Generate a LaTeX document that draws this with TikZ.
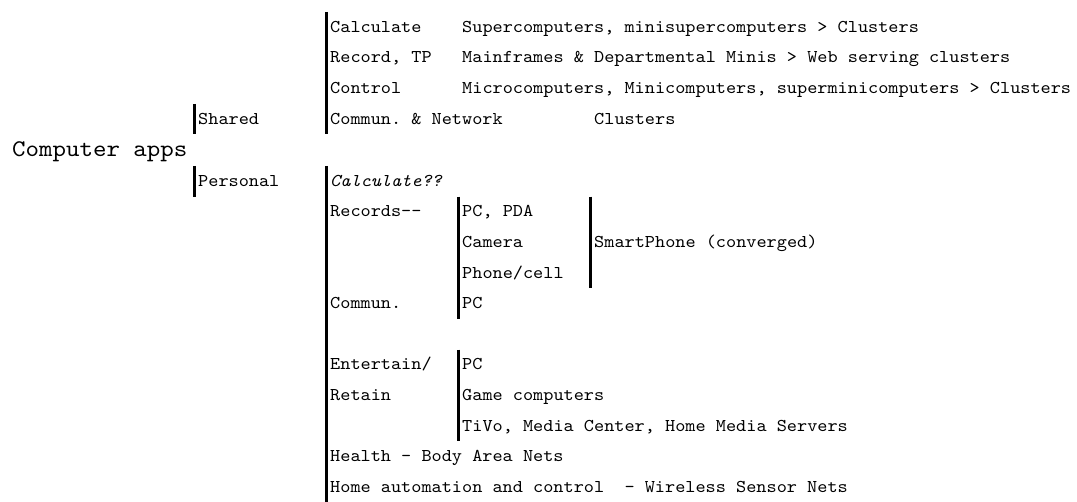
\documentclass[tikz,border=0pt]{standalone}
\usepackage{fontspec}
\setmonofont{lmmono10-regular}[Extension=.otf, ItalicFont=lmmono10-italic, FakeStretch=1.074]
\begin{document}
\begin{tikzpicture}[x=1pt,y=-1pt,
  txt/.style={anchor=base west, inner sep=0pt, font=\ttfamily\fontsize{18}{20}\selectfont},
  ittxt/.style={txt, font=\ttfamily\itshape\fontsize{18}{20}\selectfont},
  bigtxt/.style={anchor=base west, inner sep=0pt, font=\ttfamily\fontsize{23.9}{26}\selectfont},
  bar/.style={line width=3pt, black}]
\useasboundingbox (0,0) rectangle (1077,502);
% root
\node[bigtxt] (apps) at (12,157) {Computer apps};
% second level
\node[txt] (shared) at (198,124.1) {Shared};
\node[txt] (personal) at (198,186.3) {Personal};
% shared block
\node[txt] (s1) at (330,32.3) {Calculate};
\node[txt] (s1b) at (462,32.3) {Supercomputers, minisupercomputers > Clusters};
\node[txt] (s2) at (330,62.9) {Record, TP};
\node[txt] (s2b) at (462,62.9) {Mainframes \& Departmental Minis > Web serving clusters};
\node[txt] (s3) at (330,93.5) {Control};
\node[txt] (s3b) at (462,93.5) {Microcomputers, Minicomputers, superminicomputers > Clusters};
\node[txt] (s4) at (330,124.1) {Commun. \& Network};
\node[txt] (s4b) at (594,124.1) {Clusters};
% personal block
\node[ittxt] (p1) at (330,186.3) {Calculate??};
\node[txt] (p2) at (330,216.9) {Records--};
\node[txt] (p2a) at (462,216.9) {PC, PDA};
\node[txt] (p2b) at (462,247.5) {Camera};
\node[txt] (p2c) at (462,278.1) {Phone/cell};
\node[txt] (sp) at (594,247.5) {SmartPhone (converged)};
\node[txt] (p3) at (330,308.7) {Commun.};
\node[txt] (p3a) at (462,308.7) {PC};
\node[txt] (p4) at (330,369.9) {Entertain/};
\node[txt] (p4b) at (330,400.5) {Retain};
\node[txt] (p4x) at (462,369.9) {PC};
\node[txt] (p4y) at (462,400.5) {Game computers};
\node[txt] (p4z) at (462,431.1) {TiVo, Media Center, Home Media Servers};
\node[txt] (p5) at (330,461.7) {Health - Body Area Nets};
\node[txt] (p6) at (330,492.3) {Home automation and control\ \ - Wireless Sensor Nets};
% bars
\draw[bar] (326,12) -- (326,134.4);
\draw[bar] (194,103.8) -- (194,134.4);
\draw[bar] (194,166) -- (194,196.6);
\draw[bar] (326,166) -- (326,502);
\draw[bar] (458,196.6) -- (458,319);
\draw[bar] (590,196.6) -- (590,288.4);
\draw[bar] (458,349.6) -- (458,441.4);
\end{tikzpicture}
\end{document}
